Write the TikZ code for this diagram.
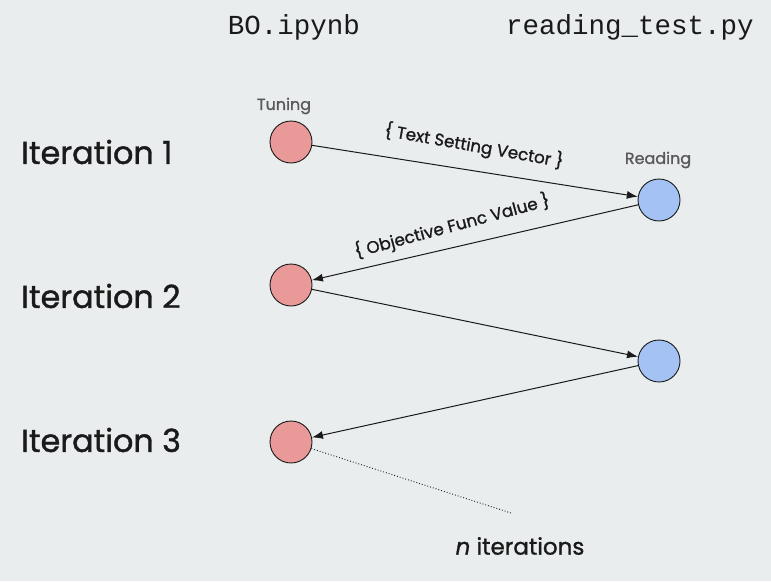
\documentclass[tikz,border=0pt]{standalone}
\usepackage{fontspec}
\setmainfont{Poppins}[FakeBold=1.2]
\newfontfamily\codefont{Liberation Mono}
\usetikzlibrary{arrows.meta}
\definecolor{bg}{HTML}{E9EDEE}
\definecolor{tunered}{HTML}{EA9999}
\definecolor{readblue}{HTML}{A4C2F4}
\definecolor{ink}{HTML}{1A1A1A}
\definecolor{labgray}{HTML}{595959}
\tikzset{
  tunenode/.style={circle, draw=ink, line width=0.9pt, fill=tunered, minimum size=42pt, inner sep=0pt},
  readnode/.style={circle, draw=ink, line width=0.9pt, fill=readblue, minimum size=42pt, inner sep=0pt},
  flow/.style={draw=ink, line width=1pt, -{Latex[length=11pt,width=8pt]}},
  iterlabel/.style={anchor=west, font=\fontsize{31.8}{34}\selectfont, text=ink, inner sep=0pt},
  smalllab/.style={font=\fontsize{16}{18}\selectfont, text=labgray, inner sep=0pt},
  edgelab/.style={font=\fontsize{16.8}{19}\selectfont, text=ink, inner sep=0pt},
  filelab/.style={font=\codefont\fontsize{27.5}{30}\selectfont, text=ink, inner sep=0pt}
}
\begin{document}
\begin{tikzpicture}[x=1pt,y=-1pt]
\fill[bg] (0,0) rectangle (771,581);
\useasboundingbox (0,0) rectangle (771,581);

\node[filelab] (bo) at (294,27) {BO.ipynb};
\node[filelab] (rt) at (630,27) {reading\_test.py};

\node[iterlabel] (it1) at (21,152) {Iteration 1};
\node[iterlabel] (it2) at (21,296) {Iteration 2};
\node[iterlabel] (it3) at (21,440) {Iteration 3};

\node[tunenode] (t1) at (291,142) {};
\node[tunenode] (t2) at (291,285) {};
\node[tunenode] (t3) at (291,442) {};
\node[readnode] (r1) at (659,200) {};
\node[readnode] (r2) at (659,361) {};

\node[smalllab] (tun) at (284,106) {Tuning};
\node[smalllab] (rea) at (658,160) {Reading};

\draw[flow] (t1) -- (r1);
\draw[flow] (r1) -- (t2);
\draw[flow] (t2) -- (r2);
\draw[flow] (r2) -- (t3);

\node[edgelab, rotate=-10] (tsv) at (474,146) {\{ Text Setting Vector \}};
\node[edgelab, rotate=15] (ofv) at (452,226) {\{ Objective Func Value \}};

\coordinate (dotend) at (511,513);
\draw[ink, line width=0.9pt, dotted] (t3) -- (dotend);
\node[font=\fontsize{23}{26}\selectfont, text=ink, inner sep=0pt] (nit) at (520,546) {\textit{n} iterations};
\end{tikzpicture}
\end{document}
